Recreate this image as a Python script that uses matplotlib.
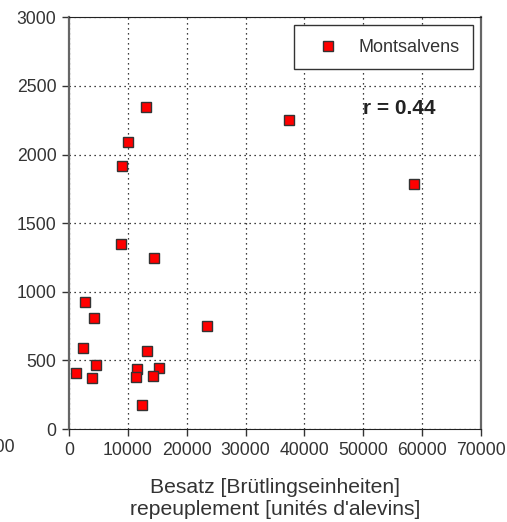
import numpy as np
import matplotlib.pyplot as plt
from matplotlib.lines import Line2D

plt.rcParams['font.family'] = ['Liberation Sans', 'DejaVu Sans']

# Besatz (x) vs. Fang (y), Montsalvens
besatz = [13080, 37430, 10020, 8950, 58560, 8780, 14500, 2720, 4250, 23500,
          2320, 13200, 4640, 15350, 11500, 1250, 14270, 11440, 3910, 12460]
fang = [2347, 2250, 2088, 1913, 1784, 1349, 1243, 927, 808, 752,
        592, 568, 464, 446, 439, 405, 388, 379, 369, 177]
serie = 'Montsalvens'
r_text = 'r = 0.44'
xticks = [0, 10000, 20000, 30000, 40000, 50000, 60000, 70000]
yticks = [0, 500, 1000, 1500, 2000, 2500, 3000]

fig = plt.figure(figsize=(5.07, 5.22), dpi=100)
ax = fig.add_axes([0.136, 0.178, 0.813, 0.789])

ax.plot(besatz, fang, 's', color='#ff0000', markeredgecolor='#333333',
        markeredgewidth=1.0, markersize=7.5, zorder=3, clip_on=False)

ax.set_xlim(0, 70000)
ax.set_ylim(0, 3000)
ax.set_xticks(xticks)
ax.set_yticks(yticks)
ax.tick_params(labelsize=12.7, labelcolor='#333333', color='#333333',
               length=5, width=1, direction='out', pad=4)
ax.grid(True, linestyle=(0, (1, 3)), color='black', linewidth=0.9)

# cut-off tick label left of the axis
ax.text(-9170, -0.025, '-10000', transform=ax.get_xaxis_transform(),
        ha='right', va='top', fontsize=12.7, color='#333333', clip_on=False)

for s in ['left', 'right']:
    ax.spines[s].set_color('#666666')
    ax.spines[s].set_linewidth(1.6)
ax.spines['top'].set_color('#222222')
ax.spines['bottom'].set_color('#222222')

ax.set_xlabel('Besatz [Brütlingseinheiten]\nrepeuplement [unités d\'alevins]',
              fontsize=15.2, color='#333333', labelpad=14, linespacing=1.2)

ax.text(50000, 2337, r_text, fontsize=15, fontweight='bold', color='#222222',
        va='center', ha='left')

handle = Line2D([], [], marker='s', linestyle='none', color='#ff0000',
                markeredgecolor='#333333', markersize=7.5)
leg = ax.legend([handle], [serie], loc='upper right', fontsize=13,
                fancybox=False, edgecolor='#333333', framealpha=1,
                borderpad=0.75, handletextpad=0.6, borderaxespad=0.45,
                labelcolor='#333333', handlelength=2.2)
leg.get_frame().set_linewidth(1.0)

fig.savefig('out.png', dpi=100)
